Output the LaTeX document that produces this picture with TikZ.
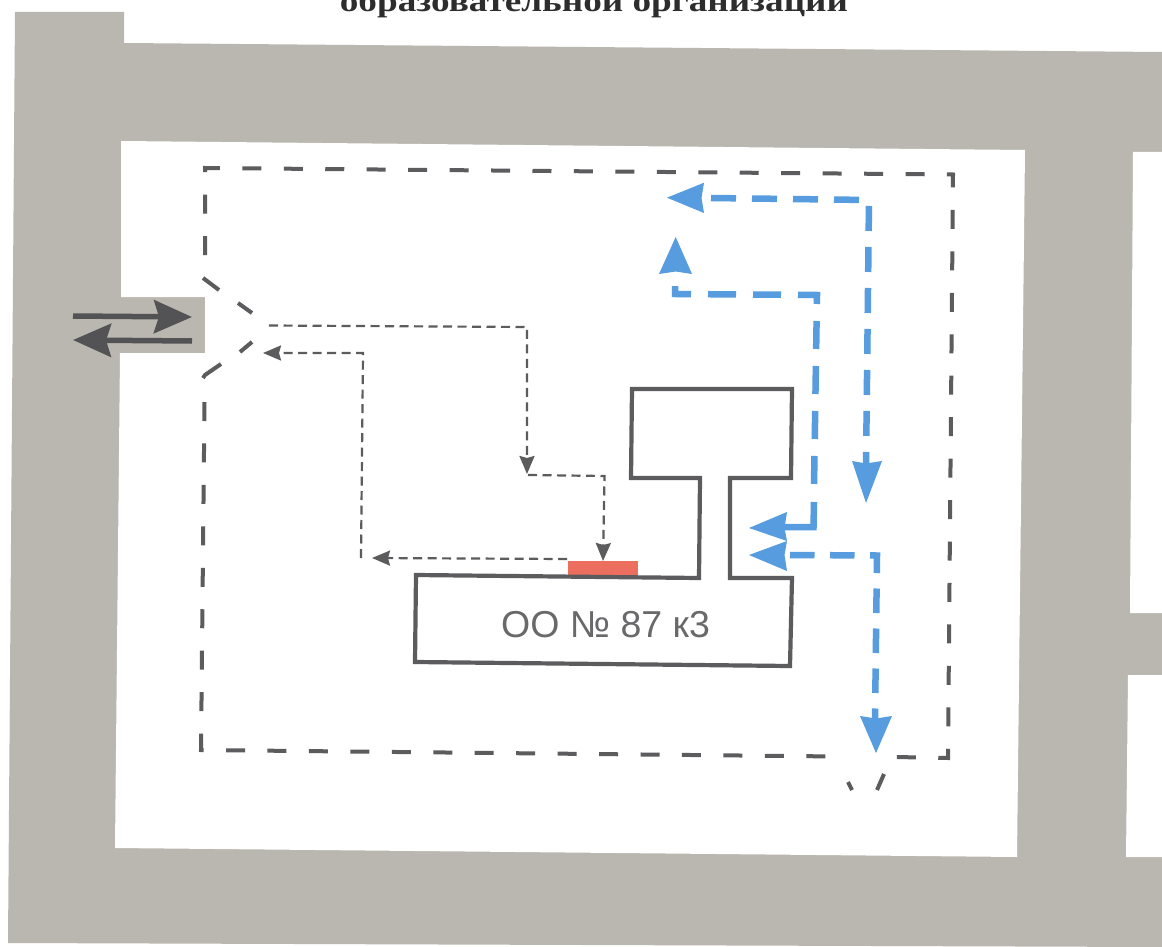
\documentclass[tikz,border=0pt]{standalone}
\usepackage{fontspec}
\setmainfont{Liberation Sans}
\newfontfamily\titlefont{Liberation Serif}
\usetikzlibrary{arrows.meta}
\definecolor{wallgrey}{RGB}{186,183,176}
\definecolor{linegrey}{RGB}{92,92,94}
\definecolor{textgrey}{RGB}{105,105,107}
\definecolor{titlegrey}{RGB}{45,45,45}
\definecolor{routeblue}{RGB}{86,156,222}
\definecolor{doorred}{RGB}{236,110,95}
\tikzset{
  x=1pt,y=-1pt,
  wall/.style={fill=wallgrey,draw=none},
  yard/.style={fill=white,draw=none},
  fence/.style={draw=linegrey,line width=4pt,dash pattern=on 19pt off 22.45pt,line join=miter},
  doorleaf/.style={draw=linegrey,line width=4pt},
  building/.style={draw=linegrey,line width=4.2pt,line join=miter},
  walk/.style={draw=linegrey,line width=2.2pt,dash pattern=on 9pt off 5.5pt,-{Stealth[length=18pt,width=15pt,inset=2pt]}},
  route/.style={draw=routeblue,line width=6.5pt},
  routehead/.style={fill=routeblue,draw=none},
  bigarrow/.style={draw=linegrey!90!black,line width=5.5pt,-{Stealth[length=38pt,width=33pt,inset=5pt]}},
}
\begin{document}
\begin{tikzpicture}
\useasboundingbox (0,0) rectangle (1162,947);
\clip (0,0) rectangle (1162,947);
\fill[white] (0,0) rectangle (1162,947);
% title, cut off by the upper edge as in the reference
\node[font=\titlefont\bfseries,xscale=3.72,yscale=3.0,anchor=base,text=titlegrey] (title) at (594,12) {образовательной организации};
% walls
\path[wall] (15,12) -- (124,12) -- (124,43) -- (1162,52) -- (1162,947) -- (8,943) -- cycle;
\path[yard] (121,141) -- (1025,150) -- (1017,857) -- (115,848) -- (120,353) -- (205,353) -- (205,297) -- (121,297) -- cycle;
\path[yard] (1133,152) -- (1162,152) -- (1162,613) -- (1130,613) -- cycle;
\path[yard] (1128,675) -- (1162,675) -- (1162,857) -- (1126,857) -- cycle;
% fence
\draw[fence] (205,255) -- (205,168) -- (953,174.5) -- (948,758) -- (895,757);
\draw[fence] (204.5,402) -- (201,750) -- (838,756.5) -- (841,761);
% gates
\draw[doorleaf] (203,278) -- (219,290);
\draw[doorleaf] (238,303) -- (252,313);
\draw[doorleaf] (252,342) -- (240,352);
\draw[doorleaf] (221,364) -- (205,375) -- (203,378);
\draw[doorleaf] (848,782) -- (852,790);
\draw[doorleaf] (884,774) -- (877,790);
% door (red) and building
\fill[doorred] (568,561) rectangle (638,576);
\draw[building] (632,389) -- (792,389) -- (791,478) -- (730,478) -- (730,578) -- (792,578) -- (790,666) -- (415,662) -- (416,575) -- (699,578) -- (700,478) -- (631,478) -- cycle;
\node[font=\fontsize{37.5}{37.5}\selectfont,text=textgrey,anchor=base] (label) at (605.5,637) {ОО № 87 к3};
% walking routes
\draw[walk] (269,325.5) -- (527,327) -- (527,474);
\draw[walk] (528,475) -- (604.5,476) -- (603,561);
\draw[walk] (567,559) -- (372,558);
\draw[walk] (361,558) -- (363,353) -- (263,353);
% entrance arrows
\draw[bigarrow] (73,316) -- (192,317);
\draw[bigarrow] (192,341) -- (73,340);
% blue routes
\draw[route,dash pattern=on 25pt off 16pt] (711,198) -- (869,200) -- (866,467);
\path[routehead] (667,197.7) -- (704,182.7) -- (701.5,198) -- (704,213) -- cycle;
\path[routehead] (866,503) -- (852,461) -- (866,463.5) -- (882,461) -- cycle;
\draw[route,dash pattern=on 28pt off 17pt,dash phase=4pt] (675,286) -- (675,294) -- (817,295) -- (814,486);
\path[routehead] (675.7,237) -- (692,274) -- (675.7,271.5) -- (659,274) -- cycle;
\draw[route,line join=miter] (814,502) -- (813.5,527) -- (783,527);
\path[routehead] (749,528) -- (787,512) -- (784.5,528) -- (787,541) -- cycle;
\path[routehead] (749,555) -- (787,541) -- (784.5,555) -- (787,571) -- cycle;
\draw[route,dash pattern=on 24.5pt off 15.5pt] (790,555) -- (877,555.5) -- (875,720);
\path[routehead] (876,753) -- (860,716) -- (876,718.5) -- (892,716) -- cycle;
\end{tikzpicture}
\end{document}
